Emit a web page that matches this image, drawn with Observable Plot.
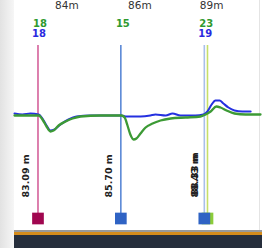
<!DOCTYPE html>
<html><head><meta charset="utf-8">
<script src="https://cdn.jsdelivr.net/npm/d3@7"></script>
<script src="https://cdn.jsdelivr.net/npm/@observablehq/plot@0.6"></script>
<style>
html,body{margin:0;padding:0;background:#fff;}
#chart{width:262px;height:248px;overflow:hidden;}
</style>
</head><body><div id="chart"></div>
<script>
// distance in metres along the trace
const greenX = [82.35,82.85,83.11,83.23,83.36,83.48,83.58,83.74,83.96,84.18,84.43,85.06,85.72,85.82,85.91,86.00,86.10,86.19,86.32,86.48,86.70,86.95,87.27,87.74,88.21,88.37,88.53,88.71,88.84,89.03,89.28,89.63,90.10];
const greenY = [0,0,0,-4,-11,-16,-15,-10,-6,-3,-1,0,0,-2,-10,-19,-24,-23,-18,-12,-8,-5,-3,-2,-1,1,4,9,8,5,2,1,1];
const blueX = [82.35,82.60,82.85,83.11,83.23,83.36,83.48,83.61,83.80,84.05,84.30,84.74,85.37,85.72,85.85,86.32,86.63,86.79,87.11,87.33,87.58,88.05,88.30,88.43,88.56,88.68,88.81,88.93,89.09,89.28,89.53,89.79];
const blueY = [2,1,2,1,-3,-10,-15,-14,-9,-4,-1,0,0,0,-1,-1,0,1,0,2,0,0,1,4,11,15,15,12,8,5,4,4];

const markerPos = [83.09, 85.70, 88.43, 88.33];
const markerLabels = ["83.09 m", "85.70 m", "88.43 m", "88.33 m"];
const markerLineColors = ["#d4609a", "#5b88d6", "#c6df6a", "#a8bfeb"];
const markerSquareColors = ["#a0064f", "#2f63c4", "#8ccc3a", "#2f63c4"];

const greenCountX = [83.09, 85.70, 88.33];
const greenCounts = ["18", "15", "23"];
const blueCountX = [83.09, 88.33];
const blueCounts = ["18", "19"];

const topLabels = ["84m", "86m", "89m"];
const topLabelAt = [84.0, 86.3, 88.56];

const green = greenX.map((x, i) => ({x, y: greenY[i]}));
const blue = blueX.map((x, i) => ({x, y: blueY[i]}));
const markers = markerPos.map((x, i) => ({x, label: markerLabels[i], line: markerLineColors[i], sq: markerSquareColors[i], i}));
const gc = greenCountX.map((x, i) => ({x, t: greenCounts[i]}));
const bc = blueCountX.map((x, i) => ({x, t: blueCounts[i]}));
const tl = topLabelAt.map((x, i) => ({x, t: topLabels[i]}));

const font = "DejaVu Sans";
const chart = Plot.plot({
  width: 262, height: 248,
  marginLeft: 14, marginRight: 2, marginTop: 0, marginBottom: 0,
  style: {background: "transparent", fontFamily: font},
  x: {domain: [82.35, 90.1], axis: null},
  y: {domain: [-133, 115], axis: null},
  marks: [
    Plot.ruleX(markers, {x: "x", stroke: "line", strokeWidth: 1.6, insetTop: 45, insetBottom: 34}),
    Plot.line(blue, {x: "x", y: "y", stroke: "#2430e0", strokeWidth: 2, curve: "monotone-x"}),
    Plot.line(green, {x: "x", y: "y", stroke: "#3c9a35", strokeWidth: 2.3, curve: "monotone-x"}),
    Plot.dot(markers, {x: "x", frameAnchor: "bottom", dy: -30, symbol: "square", r: 6.6, fill: "sq", stroke: null}),
    Plot.text(markers.filter(d => d.i < 3), {x: "x", text: "label", frameAnchor: "bottom", dy: -51, dx: -9, rotate: -90, textAnchor: "start", fontSize: 9.5, fontWeight: "bold", fill: "#222"}),
    Plot.text(markers.filter(d => d.i === 3), {x: "x", text: "label", frameAnchor: "bottom", dy: -53, dx: -6, rotate: -90, textAnchor: "start", fontSize: 9.5, fontWeight: "bold", fill: "#222"}),
    Plot.text(tl, {x: "x", text: "t", frameAnchor: "top", dy: 1, fontSize: 10.5, fill: "#333"}),
    Plot.text(gc, {x: "x", text: "t", frameAnchor: "top", dy: 19, dx: 2, fontSize: 10, fontWeight: "bold", fill: "#2f9a2f"}),
    Plot.text(bc, {x: "x", text: "t", frameAnchor: "top", dy: 29, dx: 1, fontSize: 10, fontWeight: "bold", fill: "#2a2ae0"})
  ]
});
const svg = d3.select(chart);
const bg = svg.insert("g", ":first-child");
const defs = bg.append("defs");
const gr = defs.append("linearGradient").attr("id", "sh");
gr.append("stop").attr("offset", "0").attr("stop-color", "#e2e2e2");
gr.append("stop").attr("offset", "1").attr("stop-color", "#f6f6f6");
bg.append("rect").attr("x", 0).attr("y", 0).attr("width", 262).attr("height", 248).attr("fill", "#fff");
bg.append("rect").attr("x", 0).attr("y", 0).attr("width", 14).attr("height", 248).attr("fill", "url(#sh)");
bg.append("rect").attr("x", 259).attr("y", 0).attr("width", 1).attr("height", 230).attr("fill", "#e4e4e4");
bg.append("rect").attr("x", 14).attr("y", 230).attr("width", 248).attr("height", 2).attr("fill", "#9a9a9a");
bg.append("rect").attr("x", 14).attr("y", 232).attr("width", 248).attr("height", 3).attr("fill", "#d58c1c");
bg.append("rect").attr("x", 14).attr("y", 235).attr("width", 248).attr("height", 13).attr("fill", "#262e3c");
document.getElementById("chart").append(chart);
</script>
</body></html>
